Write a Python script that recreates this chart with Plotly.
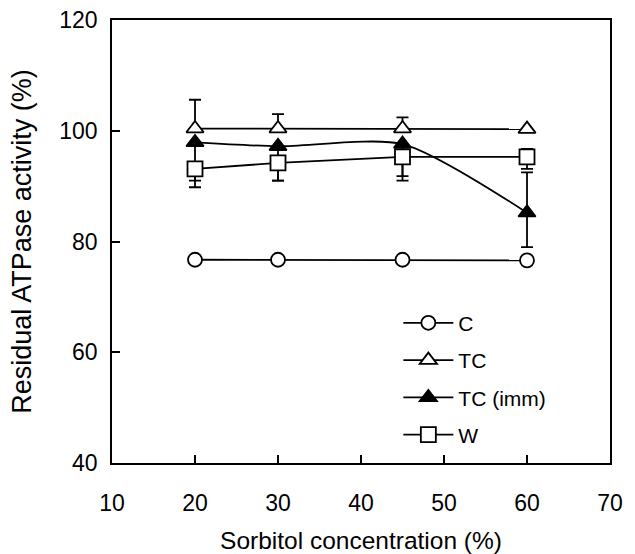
import plotly.graph_objects as go

# Data
sorbitol = [20, 30, 45, 60]
c_vals = [76.7, 76.7, 76.7, 76.6]
tc_vals = [100.4, 100.4, 100.4, 100.3]
tc_err_plus = [5.2, 2.6, 2.0, 0]
tc_err_minus = [0, 0, 0, 0]
tcimm_vals = [97.9, 97.2, 97.6, 85.2]
tcimm_err_plus = [0, 0, 0, 7.3]
tcimm_err_minus = [6.9, 6.2, 6.6, 6.2]
w_vals = [93.1, 94.2, 95.3, 95.3]
w_err_plus = [0, 0, 0, 1.4]
w_err_minus = [3.3, 3.2, 3.5, 2.2]

x_ticks = [10, 20, 30, 40, 50, 60, 70]
y_ticks = [40, 60, 80, 100, 120]

FONT = "Liberation Sans, Arial, sans-serif"
LW = 1.8

def err(plus, minus):
    return dict(type="data", symmetric=False, array=plus, arrayminus=minus,
                color="black", thickness=LW, width=6)

fig = go.Figure()
fig.add_trace(go.Scatter(
    x=sorbitol, y=c_vals, name="C", mode="lines+markers",
    line=dict(color="black", width=LW),
    marker=dict(symbol="circle", size=14, color="white", line=dict(color="black", width=LW)),
    legendgroup="a"))
fig.add_trace(go.Scatter(
    x=sorbitol, y=tc_vals, name="TC", mode="lines+markers",
    line=dict(color="black", width=LW),
    marker=dict(symbol="triangle-up", size=15, color="white", line=dict(color="black", width=LW)),
    error_y=err(tc_err_plus, tc_err_minus), legendgroup="b"))
fig.add_trace(go.Scatter(
    x=sorbitol, y=tcimm_vals, name="TC (imm)", mode="lines+markers",
    line=dict(color="black", width=LW, shape="spline", smoothing=0.7),
    marker=dict(symbol="triangle-up", size=15, color="black", line=dict(color="black", width=LW)),
    error_y=err(tcimm_err_plus, tcimm_err_minus), legendgroup="c"))
fig.add_trace(go.Scatter(
    x=sorbitol, y=w_vals, name="W", mode="lines+markers",
    line=dict(color="black", width=LW),
    marker=dict(symbol="square", size=15, color="white", line=dict(color="black", width=LW)),
    error_y=err(w_err_plus, w_err_minus), legendgroup="d"))

fig.update_layout(
    width=635, height=554,
    margin=dict(l=112, r=25, t=20, b=91),
    paper_bgcolor="white", plot_bgcolor="white",
    font=dict(family=FONT, color="black", size=23),
    showlegend=True,
    legend=dict(x=0.575, y=0.362, xanchor="left", yanchor="top",
                bgcolor="rgba(0,0,0,0)", font=dict(size=21),
                tracegroupgap=7, itemwidth=50),
    xaxis=dict(range=[10, 70], tickvals=x_ticks, ticks="inside", ticklen=8,
               tickwidth=LW, tickcolor="black", showline=True, linecolor="black",
               linewidth=LW, mirror=True, showgrid=False, zeroline=False,
               tickfont=dict(size=23), ticklabelstandoff=18, automargin=False,
               title=dict(text="Sorbitol concentration (%)", font=dict(size=24.5), standoff=22)),
    yaxis=dict(range=[40, 120], tickvals=y_ticks, ticks="inside", ticklen=8,
               tickwidth=LW, tickcolor="black", showline=True, linecolor="black",
               linewidth=LW, mirror=True, showgrid=False, zeroline=False,
               tickfont=dict(size=23), ticklabelstandoff=8, automargin=False,
               title=dict(text="Residual ATPase activity (%)", font=dict(size=27), standoff=20)),
)

fig.write_html("out.html")
